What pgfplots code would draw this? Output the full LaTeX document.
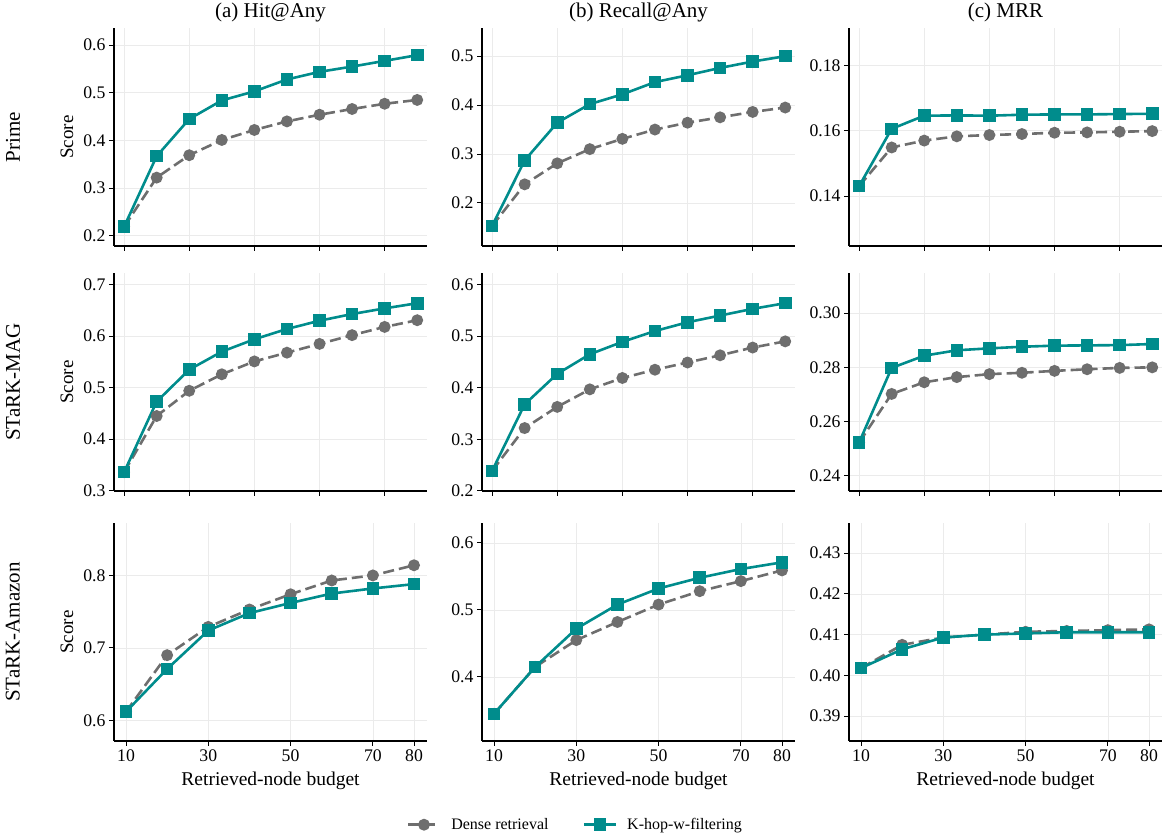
\documentclass[border=0pt]{standalone}
\usepackage{fontspec}
\setmainfont{Liberation Serif}
\usepackage{pgfplots}
\pgfplotsset{compat=1.18}
\definecolor{tealc}{RGB}{0,140,140}
\definecolor{grayc}{RGB}{110,110,110}
\newcommand\tickfont{\fontsize{17.7}{20}\selectfont}
\tikzset{rowlab/.style={rotate=90, anchor=center, font=\fontsize{21}{24}\selectfont}}
\pgfplotsset{
 base/.style={
  scale only axis, width=313pt, height=218pt,
  axis x line*=bottom, axis y line*=left,
  axis line style={-, line width=1.3pt, black},
  tick style={black, line width=1pt},
  major tick length=5pt,
  tick align=outside,
  grid=major, grid style={black!8, line width=0.7pt},
  ticklabel style={font=\tickfont},
  /pgf/number format/assume math mode=true,
  scaled y ticks=false,
  title style={at={(axis description cs:0.5,1)}, anchor=base, yshift=4pt, font=\fontsize{21}{24}\selectfont},
  every axis y label/.style={at={(axis description cs:-0.150,0.5)}, rotate=90, anchor=center, font=\fontsize{19}{22}\selectfont},
  every axis x label/.style={at={(axis description cs:0.5,0)}, anchor=base, yshift=-45pt, font=\fontsize{19.5}{22}\selectfont},
  clip=false,
 },
 p1/.style={yticklabel style={/pgf/number format/.cd, fixed, fixed zerofill, precision=1}},
 p2/.style={yticklabel style={/pgf/number format/.cd, fixed, fixed zerofill, precision=2}},
 toprow/.style={base, xmin=0.69, xmax=10.3, xtick={1,3,5,7,9}, xticklabels={}},
 botrow/.style={base, xmin=7.08, xmax=83.16, xtick={10,30,50,70,80}, xticklabels={10,30,50,70,80}, xlabel={Retrieved-node budget}},
 dense/.style={grayc, line width=2.6pt, dash pattern=on 11pt off 5pt, mark=*, mark size=4.6pt, mark options={solid, fill=grayc}},
 khop/.style={tealc, solid, line width=2.6pt, mark=square*, mark size=5pt, mark options={solid, fill=tealc}},
}
\begin{document}
\begin{tikzpicture}[x=1pt,y=1pt]
\path[use as bounding box] (0,0) rectangle (1162,835);
% ---------- Row 1: Prime ----------
\begin{axis}[toprow, p1, at={(114pt,589pt)}, anchor=south west, title={(a) Hit@Any}, ylabel={Score},
  ymin=0.1785, ymax=0.636, ytick={0.2,0.3,0.4,0.5,0.6}]
\addplot[dense] coordinates {(1,0.219)(2,0.322)(3,0.369)(4,0.401)(5,0.422)(6,0.440)(7,0.454)(8,0.466)(9,0.477)(10,0.485)};
\addplot[khop] coordinates {(1,0.219)(2,0.367)(3,0.445)(4,0.484)(5,0.503)(6,0.528)(7,0.544)(8,0.555)(9,0.567)(10,0.579)};
\node[rowlab] at (axis description cs:-0.323,0.5) {Prime};
\end{axis}
\begin{axis}[toprow, p1, at={(482pt,589pt)}, anchor=south west, title={(b) Recall@Any},
  ymin=0.112, ymax=0.5576, ytick={0.2,0.3,0.4,0.5}]
\addplot[dense] coordinates {(1,0.153)(2,0.238)(3,0.281)(4,0.310)(5,0.331)(6,0.350)(7,0.364)(8,0.375)(9,0.386)(10,0.395)};
\addplot[khop] coordinates {(1,0.153)(2,0.287)(3,0.364)(4,0.402)(5,0.422)(6,0.447)(7,0.461)(8,0.476)(9,0.489)(10,0.500)};
\end{axis}
\begin{axis}[toprow, p2, at={(849pt,589pt)}, anchor=south west, title={(c) MRR},
  ymin=0.1248, ymax=0.1914, ytick={0.14,0.16,0.18}]
\addplot[dense] coordinates {(1,0.1431)(2,0.1549)(3,0.1570)(4,0.1583)(5,0.1587)(6,0.1590)(7,0.1594)(8,0.1595)(9,0.1597)(10,0.1599)};
\addplot[khop] coordinates {(1,0.1431)(2,0.1606)(3,0.1646)(4,0.1647)(5,0.1646)(6,0.1649)(7,0.1650)(8,0.1650)(9,0.1651)(10,0.1652)};
\end{axis}
% ---------- Row 2: STaRK-MAG ----------
\begin{axis}[toprow, p1, at={(114pt,344pt)}, anchor=south west, ylabel={Score},
  ymin=0.2994, ymax=0.7227, ytick={0.3,0.4,0.5,0.6,0.7}]
\addplot[dense] coordinates {(1,0.336)(2,0.445)(3,0.494)(4,0.526)(5,0.551)(6,0.568)(7,0.585)(8,0.602)(9,0.618)(10,0.631)};
\addplot[khop] coordinates {(1,0.336)(2,0.473)(3,0.535)(4,0.570)(5,0.594)(6,0.614)(7,0.630)(8,0.643)(9,0.654)(10,0.664)};
\node[rowlab] at (axis description cs:-0.323,0.5) {STaRK-MAG};
\end{axis}
\begin{axis}[toprow, p1, at={(482pt,344pt)}, anchor=south west,
  ymin=0.2, ymax=0.6225, ytick={0.2,0.3,0.4,0.5,0.6}]
\addplot[dense] coordinates {(1,0.239)(2,0.322)(3,0.363)(4,0.397)(5,0.419)(6,0.435)(7,0.449)(8,0.463)(9,0.478)(10,0.490)};
\addplot[khop] coordinates {(1,0.239)(2,0.368)(3,0.427)(4,0.465)(5,0.489)(6,0.510)(7,0.527)(8,0.540)(9,0.553)(10,0.564)};
\end{axis}
\begin{axis}[toprow, p2, at={(849pt,344pt)}, anchor=south west,
  ymin=0.2344, ymax=0.3148, ytick={0.24,0.26,0.28,0.30}]
\addplot[dense] coordinates {(1,0.2523)(2,0.2702)(3,0.2745)(4,0.2764)(5,0.2775)(6,0.2780)(7,0.2787)(8,0.2793)(9,0.2798)(10,0.2800)};
\addplot[khop] coordinates {(1,0.2523)(2,0.2798)(3,0.2843)(4,0.2863)(5,0.2870)(6,0.2876)(7,0.2880)(8,0.2881)(9,0.2882)(10,0.2886)};
\end{axis}
% ---------- Row 3: STaRK-Amazon ----------
\begin{axis}[botrow, p1, at={(114pt,94pt)}, anchor=south west, ylabel={Score},
  ymin=0.5716, ymax=0.8723, ytick={0.6,0.7,0.8}]
\addplot[dense] coordinates {(10,0.612)(20,0.690)(30,0.729)(40,0.753)(50,0.774)(60,0.793)(70,0.800)(80,0.814)};
\addplot[khop] coordinates {(10,0.612)(20,0.671)(30,0.724)(40,0.748)(50,0.762)(60,0.775)(70,0.782)(80,0.788)};
\node[rowlab] at (axis description cs:-0.323,0.5) {STaRK-Amazon};
\end{axis}
\begin{axis}[botrow, p1, at={(482pt,94pt)}, anchor=south west,
  ymin=0.3045, ymax=0.6297, ytick={0.4,0.5,0.6},
  legend columns=2,
  legend style={draw=none, fill=none, at={(axis description cs:0.298,-0.384)}, anchor=center, font=\fontsize{16}{19}\selectfont,
    /tikz/every odd column/.append style={column sep=8pt},
    /tikz/every even column/.append style={column sep=32pt}},
  legend image code/.code={\draw[mark repeat=2,mark phase=2] plot coordinates {(0pt,0pt) (16pt,0pt) (32pt,0pt)};}]
\addplot[dense] coordinates {(10,0.345)(20,0.415)(30,0.455)(40,0.482)(50,0.508)(60,0.528)(70,0.543)(80,0.559)};
\addlegendentry{Dense retrieval}
\addplot[khop] coordinates {(10,0.345)(20,0.415)(30,0.472)(40,0.508)(50,0.532)(60,0.548)(70,0.561)(80,0.571)};
\addlegendentry{K-hop-w-filtering}
\end{axis}
\begin{axis}[botrow, p2, at={(849pt,94pt)}, anchor=south west,
  ymin=0.3839, ymax=0.4374, ytick={0.39,0.40,0.41,0.42,0.43}]
\addplot[dense] coordinates {(10,0.4018)(20,0.4075)(30,0.4093)(40,0.4100)(50,0.4107)(60,0.4109)(70,0.4111)(80,0.4113)};
\addplot[khop] coordinates {(10,0.4018)(20,0.4064)(30,0.4093)(40,0.4100)(50,0.4103)(60,0.4106)(70,0.4106)(80,0.4106)};
\end{axis}
\end{tikzpicture}
\end{document}
